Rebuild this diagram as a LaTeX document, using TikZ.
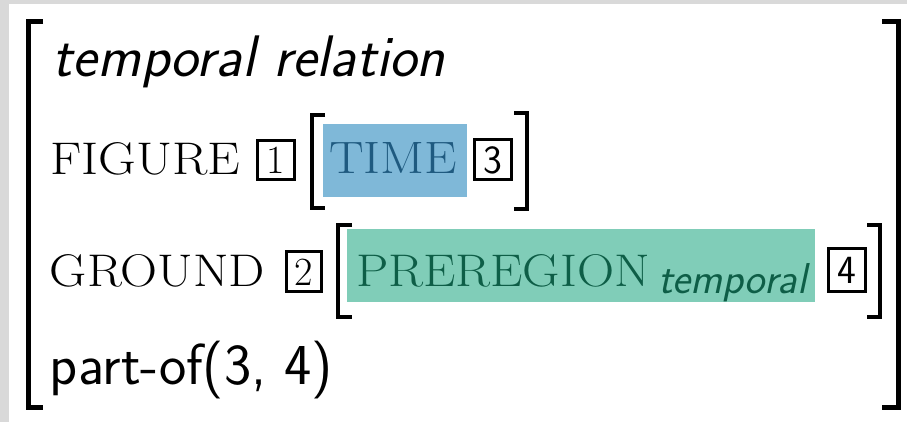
\documentclass[tikz,border=0pt]{standalone}
\usepackage{graphicx}
\definecolor{framegray}{HTML}{D9D9D9}
\definecolor{timebg}{HTML}{7FB8D8}
\definecolor{timefg}{HTML}{1F5A80}
\definecolor{regbg}{HTML}{80CDB8}
\definecolor{regfg}{HTML}{0E5E47}
\newcommand{\fitcaps}[3]{\resizebox{#1}{#2}{\fontsize{24}{26}\selectfont #3}}
\newcommand{\fitsans}[2]{\resizebox{#1}{!}{\fontsize{28}{32}\selectfont\sffamily #2}}
\tikzset{
  txt/.style={anchor=base west, inner sep=0pt, outer sep=0pt},
  bigbr/.style={line width=2.5pt, miter limit=10},
  smallbr/.style={line width=2pt, miter limit=10},
  tagbox/.style={draw, line width=1.5pt, inner sep=0pt},
  tagnum/.style={inner sep=0pt, font=\fontsize{20}{22}\selectfont},
}
\begin{document}
\begin{tikzpicture}[x=0.5pt, y=-0.5pt]
\useasboundingbox (0,0) rectangle (907,422);
\fill[framegray] (0,0) rectangle (907,422);
\fill[white] (9,4) rectangle (907,422);
% outer brackets
\draw[bigbr] (43,22) -- (28,22) -- (28,408) -- (43,408);
\draw[bigbr] (882,22) -- (898,22) -- (898,408) -- (882,408);
% row 1
\node[txt] (rel) at (53,77) {\fitsans{196pt}{\itshape temporal relation}};
% row 2
\node[txt] (fig) at (50,175) {\fitcaps{95pt}{16pt}{FIGURE}};
\node[tagbox, minimum width=18.5pt, minimum height=19.5pt] (b1) at (275.5,160.5) {};
\node[tagnum] (n1) at (b1) {1};
\draw[smallbr] (325,115) -- (312,115) -- (312,208) -- (325,208);
\fill[timebg] (323,124) rectangle (467,197);
\node[txt, text=timefg] (time) at (329,174) {\fitcaps{64pt}{15.5pt}{TIME}};
\node[tagbox, minimum width=18.5pt, minimum height=20pt] (b3) at (492.5,160) {};
\node[tagnum, font=\fontsize{20}{22}\selectfont\sffamily] (n3) at (b3) {3};
\draw[smallbr] (514,113) -- (527,113) -- (527,209) -- (514,209);
% row 3
\node[txt] (gnd) at (50,287) {\fitcaps{107.5pt}{16pt}{GROUND}};
\node[tagbox, minimum width=17.5pt, minimum height=20pt] (b2) at (303.5,272) {};
\node[tagnum] (n2) at (b2) {2};
\draw[smallbr] (352,225) -- (338,225) -- (338,317) -- (352,317);
\fill[regbg] (347,229) rectangle (815,302);
\node[txt, text=regfg] (prereg) at (356,287) {\fitcaps{147pt}{16pt}{PREREGION}};
\node[txt, text=regfg] (sub) at (658,294) {\fitsans{74.5pt}{\itshape temporal}};
\node[tagbox, minimum width=18.5pt, minimum height=21.5pt] (b4) at (846.5,270.5) {};
\node[tagnum, font=\fontsize{20}{22}\selectfont\sffamily] (n4) at (b4) {4};
\draw[smallbr] (867,225) -- (880,225) -- (880,317) -- (867,317);
% row 4
\node[txt] (part) at (50,385) {\fitsans{141.5pt}{part-of(3, 4)}};
\end{tikzpicture}
\end{document}
